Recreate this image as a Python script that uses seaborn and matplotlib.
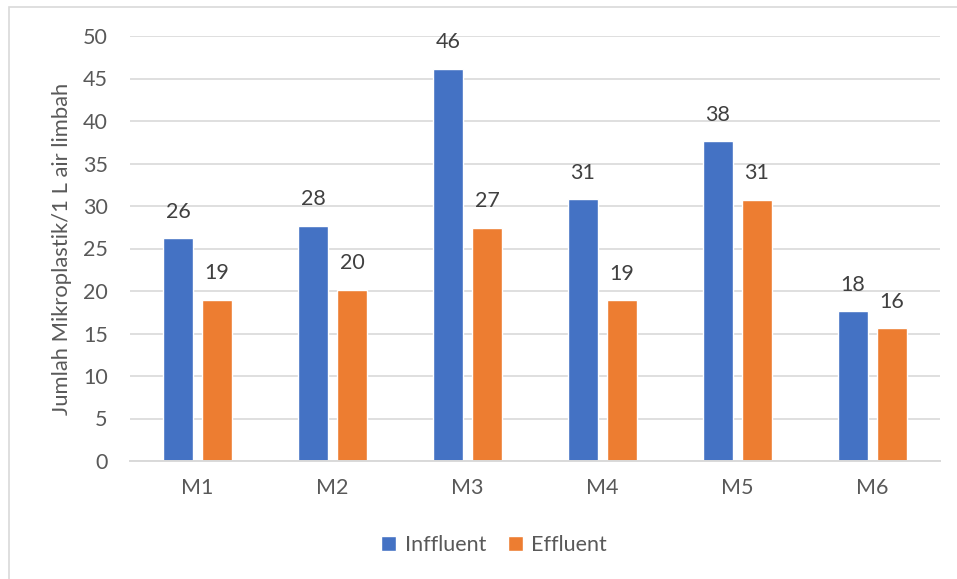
import matplotlib
matplotlib.use("Agg")
import matplotlib.pyplot as plt
from matplotlib.patches import Rectangle
import seaborn as sns
import pandas as pd

# Sampling points and microplastic counts per 1 L of wastewater
categories = ["M1", "M2", "M3", "M4", "M5", "M6"]
series_names = ["Inffluent", "Effluent"]
influent = [26.2, 27.7, 46.1, 30.8, 37.6, 17.6]
effluent = [19.0, 20.1, 27.4, 18.9, 30.7, 15.6]
y_ticks = [0, 5, 10, 15, 20, 25, 30, 35, 40, 45, 50]
y_label = "Jumlah Mikroplastik/1 L air limbah"

colors = ["#4472C4", "#ED7D31"]
text_gray = "#595959"
label_gray = "#404040"
grid_gray = "#D9D9D9"
fs = 15.5

df = pd.DataFrame({
    "Lokasi": categories * 2,
    "Seri": [series_names[0]] * len(categories) + [series_names[1]] * len(categories),
    "Nilai": influent + effluent,
})

sns.set_theme(style="white")
plt.rcParams["font.family"] = ["Lato", "DejaVu Sans"]

W, H = 957, 579
fig = plt.figure(figsize=(W / 100, H / 100), dpi=100)
ax = fig.add_axes([130 / W, (H - 461) / H, 810 / W, 425 / H])

sns.barplot(data=df, x="Lokasi", y="Nilai", hue="Seri", hue_order=series_names,
            palette=colors, width=0.578, gap=0.23, saturation=1,
            errorbar=None, ax=ax, legend=True)

ax.set_ylim(0, 50)
ax.set_yticks(y_ticks)
ax.set_xlim(-0.5, len(categories) - 0.5)
ax.yaxis.grid(True, color=grid_gray, linewidth=1.2)
ax.set_axisbelow(True)
for side in ["top", "right", "left"]:
    ax.spines[side].set_visible(False)
ax.spines["bottom"].set_color(grid_gray)
ax.spines["bottom"].set_linewidth(1.4)
ax.tick_params(axis="y", length=0, pad=16, labelsize=fs, labelcolor=text_gray)
ax.tick_params(axis="x", length=0, pad=12, labelsize=fs, labelcolor=text_gray)
ax.set_xlabel("")
ax.set_ylabel(y_label, fontsize=fs + 0.3, color=text_gray, labelpad=8)

for container in ax.containers:
    ax.bar_label(container, fmt="%.0f", padding=12, fontsize=fs, color=label_gray)

handles, labels = ax.get_legend_handles_labels()
ax.legend_.remove()
fig.legend(handles, labels, loc="center", bbox_to_anchor=(494 / W, (H - 545) / H),
           ncol=2, frameon=False, fontsize=fs, labelcolor=text_gray,
           handlelength=0.7, handleheight=0.7, handletextpad=0.4,
           columnspacing=1.0)

# Light chart-area frame
fig.patches.append(Rectangle((9 / W, -0.01), 1.2, (H - 7) / H + 0.01,
                             transform=fig.transFigure, fill=False,
                             edgecolor=grid_gray, linewidth=1.2))

fig.savefig("out.png", dpi=100)
